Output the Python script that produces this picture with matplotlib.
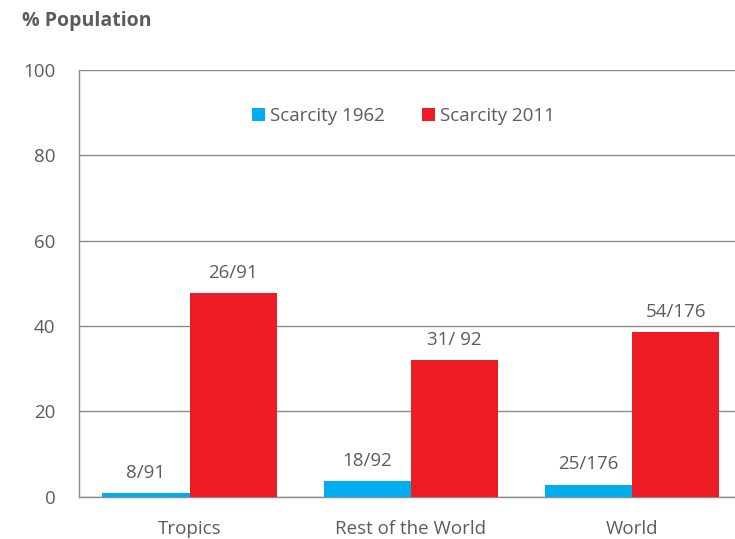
import numpy as np
import matplotlib
matplotlib.use("Agg")
import matplotlib.pyplot as plt

plt.rcParams["font.family"] = ["Open Sans", "DejaVu Sans"]

# share of population under water scarcity, by region
regions = ["Tropics", "Rest of the World", "World"]
scarcity_1962 = [0.9, 3.7, 2.8]
scarcity_2011 = [47.7, 32.0, 38.5]
labels_1962 = ["8/91", "18/92", "25/176"]
labels_2011 = ["26/91", "31/ 92", "54/176"]
yticks = [0, 20, 40, 60, 80, 100]

blue = "#00aeef"
red = "#ed1c24"
text_col = "#5c5c5c"
grid_col = "#8c8c8c"

fig = plt.figure(figsize=(7.35, 5.39), dpi=100)
ax = fig.add_axes([79 / 735, 1 - 496.7 / 539, 1 - 79 / 735, (496.7 - 70) / 539])

x = np.arange(len(regions))
w = 0.394
b1 = ax.bar(x - w / 2, scarcity_1962, w, color=blue, label="Scarcity 1962", zorder=3)
b2 = ax.bar(x + w / 2, scarcity_2011, w, color=red, label="Scarcity 2011", zorder=3)

# ratio labels above each bar
for bars, labs in [(b1, labels_1962), (b2, labels_2011)]:
    for rect, lab in zip(bars, labs):
        ax.annotate(lab, (rect.get_x() + rect.get_width() / 2, rect.get_height()),
                    xytext=(0, 11), textcoords="offset points",
                    ha="center", va="baseline", fontsize=13.5, color=text_col)

ax.set_xlim(-0.5, 2.466)
ax.set_ylim(0, 100)
ax.set_yticks(yticks)
ax.set_xticks(x)
ax.set_xticklabels(regions)
ax.tick_params(axis="both", length=0, labelsize=13.5, labelcolor=text_col)
ax.tick_params(axis="y", pad=17)
ax.tick_params(axis="x", pad=17)

ax.yaxis.grid(True, color=grid_col, linewidth=1.0, zorder=0)
ax.set_axisbelow(True)
for s in ["top", "right"]:
    ax.spines[s].set_visible(False)
for s in ["left", "bottom"]:
    ax.spines[s].set_color(grid_col)
    ax.spines[s].set_linewidth(1.0)

leg = ax.legend(loc="center", bbox_to_anchor=(0.495, 0.892), ncol=2, frameon=False,
                fontsize=13.5, handlelength=0.65, handleheight=0.65,
                handletextpad=0.3, columnspacing=2.0)
for t in leg.get_texts():
    t.set_color(text_col)

fig.text(22 / 735, 1 - 21 / 539, "% Population", fontsize=14, fontweight="bold",
         color=text_col, va="center", ha="left")

fig.savefig("out.png", dpi=100)
